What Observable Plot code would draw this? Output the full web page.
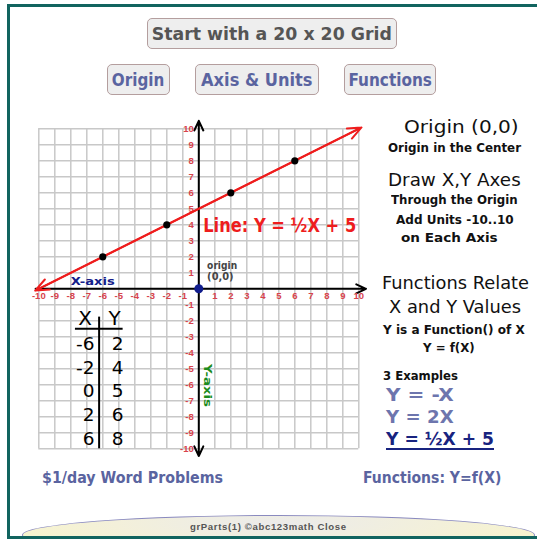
<!DOCTYPE html>
<html><head><meta charset="utf-8">
<script src="https://cdn.jsdelivr.net/npm/d3@7"></script>
<script src="https://cdn.jsdelivr.net/npm/@observablehq/plot@0.6"></script>
<style>
html,body{margin:0;padding:0;background:#fff;}
#wrap{position:relative;width:537px;height:539px;overflow:hidden;background:#fff;font-family:"DejaVu Sans",sans-serif;}
#frame{position:absolute;left:7px;top:4px;width:560px;height:535px;box-sizing:border-box;border-left:3px solid #11645f;border-top:3px solid #11645f;border-bottom:3px solid #11645f;overflow:hidden;}
#ell{position:absolute;left:12px;top:508px;width:513px;height:40px;border-radius:50%;border:1.5px solid #8a8abf;box-sizing:border-box;background:radial-gradient(ellipse at 50% 20%,#ebebeb 0%,#f3f0da 45%,#fbf8c4 100%);}
#plot{position:absolute;left:0;top:0;}
.t{position:absolute;white-space:nowrap;}
.t span{display:inline-block;transform-origin:0 50%;}
.btn{position:absolute;box-sizing:border-box;border:1.5px solid #b49e9e;border-radius:5px;background:#eeeeee;display:flex;align-items:center;justify-content:center;font-weight:bold;color:#5a64a0;white-space:nowrap;}
.btn span{display:inline-block;transform-origin:50% 50%;}
</style>
</head><body>
<div id="wrap">
  <div id="frame"><div id="ell"></div></div>
  <div id="plot"></div>
</div>
<script>
// ---- data ----
const ticks = [-10,-9,-8,-7,-6,-5,-4,-3,-2,-1,0,1,2,3,4,5,6,7,8,9,10];
const tableX = [-6, -2, 0, 2, 6];
const tableY = [2, 4, 5, 6, 8];
const lineX = [-10, 10];
const lineY = [0, 10];
const lineLabel = "Line: Y = ½X + 5";

const pts = tableX.map((x, i) => ({x, y: tableY[i]}));
const labelTicks = ticks.filter(t => t !== 0);
const red = "#d8434c";
const tickFont = "Liberation Sans";

const chart = Plot.plot({
  width: 537, height: 539,
  marginLeft: 38.3, marginRight: 178.7, marginTop: 128.3, marginBottom: 90.7,
  x: {domain: [-10, 10], axis: null},
  y: {domain: [-10, 10], axis: null},
  style: {background: "transparent", overflow: "visible"},
  marks: [
    Plot.ruleX(ticks, {x: d => d, y1: -10, y2: 10, stroke: "#c8c8c8", strokeWidth: 1.5}),
    Plot.ruleY(ticks, {y: d => d, x1: -10, x2: 10, stroke: "#c8c8c8", strokeWidth: 1.5}),
    // axes
    Plot.arrow([0], {x1: -10.2, y1: 0, x2: 10.45, y2: 0, stroke: "black", strokeWidth: 2, headLength: 8, headAngle: 50}),
    Plot.arrow([0], {x1: 0, y1: 0, x2: 0, y2: 10.5, stroke: "black", strokeWidth: 2, headLength: 8, headAngle: 50}),
    Plot.arrow([0], {x1: 0, y1: 0, x2: 0, y2: -10.45, stroke: "black", strokeWidth: 2, headLength: 8, headAngle: 50}),
    // tick labels
    Plot.text(labelTicks, {x: d => d, y: 0, dy: 7.5, text: d => String(d), fill: red, fontSize: 9.5, fontWeight: "bold", fontFamily: tickFont}),
    Plot.text(labelTicks, {x: 0, y: d => d, dx: -5, textAnchor: "end", text: d => String(d), fill: red, fontSize: 9.5, fontWeight: "bold", fontFamily: tickFont}),
    // red line with arrows at both ends
    Plot.arrow([0], {x1: lineX[0], y1: lineY[0], x2: lineX[1], y2: lineY[1], stroke: "#ee1d1d", strokeWidth: 2, headLength: 11, headAngle: 45, insetEnd: -3}),
    Plot.arrow([0], {x1: lineX[1], y1: lineY[1], x2: lineX[0], y2: lineY[0], stroke: "#ee1d1d", strokeWidth: 2, headLength: 11, headAngle: 45, insetEnd: -4}),
    // points
    Plot.dot(pts.filter(d => d.x !== 0), {x: "x", y: "y", r: 3.6, fill: "black"}),
    Plot.dot([0], {x: 0, y: 0, r: 4.5, fill: "#101c8c"}),
    // annotations
    Plot.text([lineLabel], {x: 0.275, y: 3.93, textAnchor: "start", fill: "#ee1d1d", fontSize: 20, fontWeight: "bold", fontFamily: "DejaVu Sans"}),
    Plot.text(["origin"], {x: 0.52, y: 1.46, textAnchor: "start", fill: "#444", fontSize: 10.5, fontWeight: "bold", fontFamily: "DejaVu Sans"}),
    Plot.text(["(0,0)"], {x: 0.52, y: 0.77, textAnchor: "start", fill: "#444", fontSize: 10.5, fontWeight: "bold", fontFamily: "DejaVu Sans"}),
    Plot.text(["X-axis"], {x: -6.63, y: 0.46, fill: "#14208a", fontSize: 11, fontWeight: "bold", fontFamily: "DejaVu Sans"}),
    Plot.text(["Y-axis"], {x: 0.56, y: -6.04, rotate: 90, fill: "#1d8c1d", fontSize: 11, fontWeight: "bold", fontFamily: "DejaVu Sans"}),
    // table
    Plot.text(["X"], {x: -7.1, y: -1.84, fill: "black", fontSize: 20, fontFamily: "DejaVu Sans"}),
    Plot.text(["Y"], {x: -5.26, y: -1.84, fill: "black", fontSize: 20, fontFamily: "DejaVu Sans"}),
    Plot.ruleX([-6.23], {y1: -1.77, y2: -10, stroke: "black", strokeWidth: 2}),
    Plot.ruleY([-2.5], {x1: -7.71, x2: -4.73, stroke: "black", strokeWidth: 2}),
    Plot.text(tableX, {x: -6.52, y: (d, i) => -3.44 - 1.49 * i, text: d => String(d), textAnchor: "end", fill: "black", fontSize: 18.5, fontFamily: "DejaVu Sans"}),
    Plot.text(tableY, {x: -5.44, y: (d, i) => -3.44 - 1.49 * i, text: d => String(d), textAnchor: "start", fill: "black", fontSize: 18.5, fontFamily: "DejaVu Sans"})
  ]
});
document.getElementById("plot").appendChild(chart);

// fit annotation widths
const svgFit = {"Line: Y = ½X + 5": 153, "origin": 30, "(0,0)": 26.5, "X-axis": 44, "Y-axis": 43};
d3.select(chart).selectAll("text").each(function () {
  const w = svgFit[this.textContent];
  if (w) { this.setAttribute("textLength", w); this.setAttribute("lengthAdjust", "spacingAndGlyphs"); }
});

// ---- HTML texts outside the plotting area ----
const wrap = document.getElementById("wrap");
function addText(txt, o) {
  const d = document.createElement("div");
  d.className = "t";
  const h = 26;
  d.style.left = o.left + "px";
  d.style.top = (o.cy - h / 2) + "px";
  d.style.height = h + "px";
  d.style.lineHeight = h + "px";
  d.style.fontSize = o.size + "px";
  d.style.fontWeight = o.weight || "normal";
  d.style.color = o.color || "#111";
  if (o.family) d.style.fontFamily = o.family;
  const s = document.createElement("span");
  s.textContent = txt;
  if (o.ls) s.style.letterSpacing = o.ls + "px";
  if (o.underline) { s.style.textDecoration = "underline"; s.style.textDecorationThickness = "2px"; s.style.textUnderlineOffset = "3px"; }
  d.appendChild(s);
  wrap.appendChild(d);
  const w = s.getBoundingClientRect().width;
  s.style.transform = `scaleX(${o.w / w})`;
}
function addBtn(txt, o) {
  const d = document.createElement("div");
  d.className = "btn";
  d.style.left = o.left + "px"; d.style.top = o.top + "px";
  d.style.width = o.width + "px"; d.style.height = o.height + "px";
  d.style.fontSize = o.size + "px";
  if (o.color) d.style.color = o.color;
  const s = document.createElement("span");
  s.textContent = txt;
  d.appendChild(s);
  wrap.appendChild(d);
  const w = s.getBoundingClientRect().width;
  s.style.transform = `scaleX(${o.w / w})`;
}

addBtn("Start with a 20 x 20 Grid", {left: 147, top: 18, width: 250, height: 31, size: 18, w: 240, color: "#555"});
addBtn("Origin", {left: 107, top: 64, width: 63, height: 31, size: 18, w: 52.5});
addBtn("Axis & Units", {left: 195, top: 64, width: 124, height: 31, size: 18, w: 111.5});
addBtn("Functions", {left: 344, top: 64, width: 92, height: 31, size: 18, w: 83.5});

addText("Origin (0,0)", {left: 404.3, cy: 127, w: 114.7, size: 18.5});
addText("Origin in the Center", {left: 387.7, cy: 147.7, w: 133, size: 13, weight: "bold"});
addText("Draw X,Y Axes", {left: 387.7, cy: 180, w: 132.7, size: 18.5});
addText("Through the Origin", {left: 391, cy: 200, w: 126.7, size: 13, weight: "bold"});
addText("Add Units -10..10", {left: 395.7, cy: 219.5, w: 117.7, size: 13, weight: "bold"});
addText("on Each Axis", {left: 401, cy: 238.3, w: 96.7, size: 13, weight: "bold"});
addText("Functions Relate", {left: 382.3, cy: 282.7, w: 147, size: 18.5});
addText("X and Y Values", {left: 389, cy: 306.5, w: 132, size: 18.5});
addText("Y is a Function() of X", {left: 383.3, cy: 330, w: 141.7, size: 13, weight: "bold"});
addText("Y = f(X)", {left: 423.3, cy: 348, w: 51.7, size: 13, weight: "bold"});
addText("3 Examples", {left: 383.3, cy: 375.5, w: 75, size: 13, weight: "bold"});
addText("Y = -X", {left: 385.7, cy: 394.5, w: 67.7, size: 18, weight: "bold", color: "#6d75ad"});
addText("Y = 2X", {left: 385.7, cy: 416.5, w: 67.7, size: 18, weight: "bold", color: "#6d75ad"});
addText("Y = ½X + 5", {left: 385.7, cy: 438.5, w: 108, size: 18, weight: "bold", color: "#18237f", underline: true});

addText("$1/day Word Problems", {left: 42.3, cy: 478, w: 181, size: 16, color: "#5a64a0", weight: "bold"});
addText("Functions: Y=f(X)", {left: 363.3, cy: 478, w: 138.3, size: 16, color: "#5a64a0", weight: "bold"});
addText("grParts(1) ©abc123math Close", {left: 190, cy: 526.7, w: 156.7, size: 9, color: "#555", weight: "bold", family: "Liberation Sans", ls: 0.6});
</script>
</body></html>
